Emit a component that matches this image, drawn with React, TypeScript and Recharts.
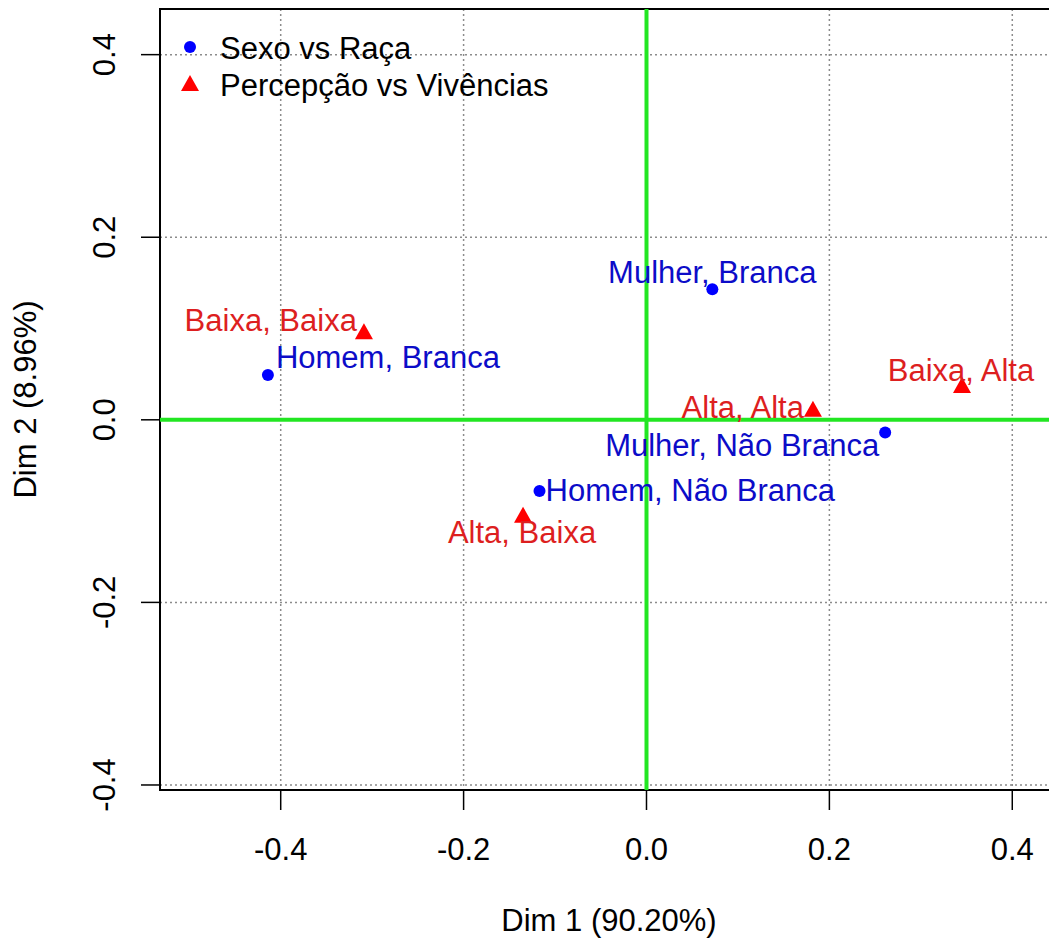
import React from 'react';
import {
  ScatterChart,
  Scatter,
  XAxis,
  YAxis,
  CartesianGrid,
  ReferenceLine,
  ReferenceArea,
} from 'recharts';

// CA coordinates
const sexoRacaNames = ['Homem, Branca', 'Mulher, Branca', 'Mulher, Não Branca', 'Homem, Não Branca'];
const sexoRacaDim1 = [-0.414, 0.072, 0.261, -0.117];
const sexoRacaDim2 = [0.049, 0.143, -0.014, -0.078];

const percepNames = ['Baixa, Baixa', 'Baixa, Alta', 'Alta, Alta', 'Alta, Baixa'];
const percepDim1 = [-0.309, 0.345, 0.182, -0.135];
const percepDim2 = [0.096, 0.037, 0.011, -0.105];

const axisTicks = [-0.4, -0.2, 0, 0.2, 0.4];
const xDomain = [-0.532, 0.45];
const yDomain = [-0.4055, 0.45];

const FONT = '"Liberation Sans", Arial, Helvetica, sans-serif';
const BLUE = '#0000ff';
const BLUE_TEXT = '#0c0cc8';
const RED = '#ff0000';
const RED_TEXT = '#dd1f1f';
const GREEN = '#22e622';

// where each label sits relative to its point
const labelPlace: Record<string, { anchor: 'start' | 'middle' | 'end'; dx: number; dy: number }> = {
  'Homem, Branca': { anchor: 'start', dx: 8, dy: -18 },
  'Mulher, Branca': { anchor: 'middle', dx: 0, dy: -17 },
  'Mulher, Não Branca': { anchor: 'end', dx: -6, dy: 13 },
  'Homem, Não Branca': { anchor: 'start', dx: 6, dy: -1 },
  'Baixa, Baixa': { anchor: 'end', dx: -7, dy: -12 },
  'Baixa, Alta': { anchor: 'middle', dx: -1, dy: -16 },
  'Alta, Alta': { anchor: 'end', dx: -9, dy: -2 },
  'Alta, Baixa': { anchor: 'middle', dx: -1, dy: 17 },
};

const sexoRaca = sexoRacaNames.map((name, i) => ({ name, x: sexoRacaDim1[i], y: sexoRacaDim2[i] }));
const percep = percepNames.map((name, i) => ({ name, x: percepDim1[i], y: percepDim2[i] }));

const makeShape = (kind: 'circle' | 'triangle') => (props: any) => {
  const { cx, cy, payload } = props;
  const place = labelPlace[payload.name];
  const textColor = kind === 'circle' ? BLUE_TEXT : RED_TEXT;
  return (
    <g>
      {kind === 'circle' ? (
        <circle cx={cx} cy={cy} r={6} fill={BLUE} />
      ) : (
        <polygon
          points={`${cx},${cy - 9} ${cx - 9},${cy + 7} ${cx + 9},${cy + 7}`}
          fill={RED}
        />
      )}
      <text
        x={cx + place.dx}
        y={cy + place.dy}
        textAnchor={place.anchor}
        dominantBaseline="central"
        fontFamily={FONT}
        fontSize={31}
        fill={textColor}
      >
        {payload.name}
      </text>
    </g>
  );
};

const XTick = (props: any) => {
  const { x, y, payload } = props;
  return (
    <text x={x} y={y + 50} textAnchor="middle" fontFamily={FONT} fontSize={31} fill="#000">
      {payload.value.toFixed(1)}
    </text>
  );
};

const YTick = (props: any) => {
  const { y, payload } = props;
  return (
    <text
      x={115}
      y={y}
      transform={`rotate(-90, 115, ${y})`}
      textAnchor="middle"
      fontFamily={FONT}
      fontSize={31}
      fill="#000"
    >
      {payload.value.toFixed(1)}
    </text>
  );
};

// legend drawn top-left inside the plot frame, as in R's legend("topleft", bty="n")
const LegendBox = () => (
  <svg
    width={420}
    height={90}
    style={{ position: 'absolute', left: 170, top: 24, display: 'block', pointerEvents: 'none' }}
  >
    <circle cx={20} cy={23} r={6} fill={BLUE} />
    <text x={50} y={35} fontFamily={FONT} fontSize={31} fill="#000">
      Sexo vs Raça
    </text>
    <polygon points="20,51 11,67 29,67" fill={RED} />
    <text x={50} y={72} fontFamily={FONT} fontSize={31} fill="#000">
      Percepção vs Vivências
    </text>
  </svg>
);

export default function App() {
  return (
    <div
      style={{
        position: 'absolute',
        left: 0,
        top: 0,
        width: 1049,
        height: 943,
        overflow: 'hidden',
        background: '#fff',
      }}
    >
      <ScatterChart width={1100} height={943} margin={{ top: 9, right: 42, bottom: 0, left: 0 }}>
        <CartesianGrid stroke="#8c8c8c" strokeWidth={1.5} strokeDasharray="2 3" />
        <XAxis
          type="number"
          dataKey="x"
          domain={xDomain}
          ticks={axisTicks}
          allowDataOverflow
          height={153}
          axisLine={false}
          tickSize={20}
          tickMargin={0}
          tickLine={{ stroke: '#000', strokeWidth: 1.5 }}
          tick={<XTick />}
          label={{
            value: 'Dim 1 (90.20%)',
            position: 'insideBottom',
            offset: 12,
            style: { fontFamily: FONT, fontSize: 31, fill: '#000' },
          }}
        />
        <YAxis
          type="number"
          dataKey="y"
          domain={yDomain}
          ticks={axisTicks}
          allowDataOverflow
          width={160}
          axisLine={false}
          tickSize={19}
          tickMargin={0}
          tickLine={{ stroke: '#000', strokeWidth: 1.5 }}
          tick={<YTick />}
          label={{
            value: 'Dim 2 (8.96%)',
            angle: -90,
            position: 'insideLeft',
            offset: 25,
            style: { fontFamily: FONT, fontSize: 31, fill: '#000', textAnchor: 'middle' },
          }}
        />
        <ReferenceLine x={0} stroke={GREEN} strokeWidth={4} />
        <ReferenceLine y={0} stroke={GREEN} strokeWidth={4} />
        <ReferenceArea
          x1={xDomain[0]}
          x2={xDomain[1]}
          y1={yDomain[0]}
          y2={yDomain[1]}
          fill="none"
          fillOpacity={0}
          stroke="#000"
          strokeWidth={2}
          ifOverflow="visible"
        />
        <Scatter name="Sexo vs Raça" data={sexoRaca} shape={makeShape('circle')} isAnimationActive={false} />
        <Scatter name="Percepção vs Vivências" data={percep} shape={makeShape('triangle')} isAnimationActive={false} />
      </ScatterChart>
      <LegendBox />
    </div>
  );
}
